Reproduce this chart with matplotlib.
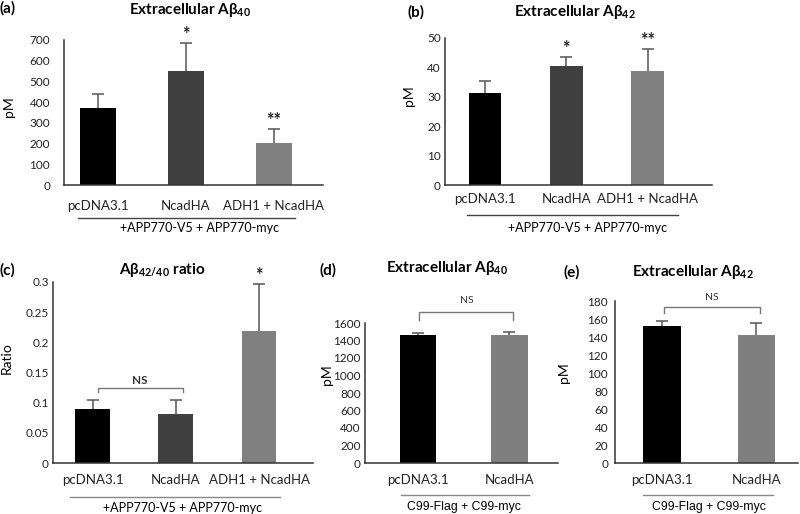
import matplotlib
matplotlib.use('Agg')
import matplotlib.pyplot as plt
import numpy as np
from matplotlib.lines import Line2D

plt.rcParams['font.family'] = ['Lato', 'DejaVu Sans']
plt.rcParams['mathtext.fontset'] = 'custom'
plt.rcParams['mathtext.rm'] = 'Lato'
plt.rcParams['mathtext.bf'] = 'Lato:bold'

W, H = 800, 514

# data
app_groups = ['pcDNA3.1', 'NcadHA', 'ADH1 + NcadHA']
app_colors = ['#000000', '#404040', '#808080']
ab40_mean = [372, 550, 203]
ab40_err = [68, 136, 67]
ab42_mean = [31.3, 40.5, 38.8]
ab42_err = [4.1, 3.0, 7.5]
ratio_mean = [0.090, 0.082, 0.218]
ratio_err = [0.014, 0.022, 0.079]

c99_groups = ['pcDNA3.1', 'NcadHA']
c99_colors = ['#000000', '#7f7f7f']
c99_ab40_mean = [1463, 1463]
c99_ab40_err = [19, 31]
c99_ab42_mean = [152.2, 141.9]
c99_ab42_err = [5.6, 14.1]

fig = plt.figure(figsize=(8, 5.14), dpi=100)


def fx(x):
    return x / W


def fy(y):
    return 1 - y / H


def make_axes(x0, ytop, x1, ybot):
    return fig.add_axes([fx(x0), fy(ybot), fx(x1) - fx(x0), fy(ytop) - fy(ybot)])


def bar_panel(ax, groups, means, errs, colors, ymax, step, xlim, width, ypad, xpad, fmt=None):
    x = np.arange(len(groups))
    ax.bar(x, means, width=width, color=colors, zorder=2)
    tops = np.array(means) + np.array(errs)
    ax.vlines(x, means, tops, color='#555555', lw=1.1, zorder=3)
    ax.plot(x, tops, ls='none', marker='_', ms=8, mew=1.1, color='#555555', zorder=3)
    ax.set_xlim(*xlim)
    ax.set_ylim(0, ymax)
    ticks = np.arange(0, ymax + step / 2, step)
    ax.set_yticks(ticks)
    if fmt:
        ax.set_yticklabels([fmt(t) for t in ticks])
    ax.set_xticks(x)
    ax.set_xticklabels(groups, fontsize=9.5, color='#222222')
    for s in ['top', 'right']:
        ax.spines[s].set_visible(False)
    for s in ['left', 'bottom']:
        ax.spines[s].set_color('#333333')
        ax.spines[s].set_linewidth(1.1)
    ax.tick_params(axis='y', length=0, pad=ypad, labelsize=8.5, colors='#222222')
    ax.tick_params(axis='x', length=0, pad=xpad)
    return x, tops


def star(ax, x, y, text):
    ax.annotate(text, (x, y), xytext=(0, 6), textcoords='offset points',
                ha='center', va='center', fontsize=13, fontweight='bold', color='#222222')


def bracket(ax, xa, xb, y, drop):
    ax.plot([xa, xa, xb, xb], [y - drop, y, y, y - drop], color='#777777', lw=1,
            clip_on=False)


def underline(x0, x1, y, color):
    fig.add_artist(Line2D([fx(x0), fx(x1)], [fy(y), fy(y)], color=color, lw=1,
                          transform=fig.transFigure))


def ftext(x, y, s, **kw):
    fig.text(fx(x), fy(y), s, **kw)


# (a)
ax = make_axes(64, 40, 323, 185)
x, tops = bar_panel(ax, app_groups, ab40_mean, ab40_err, app_colors, 700, 100,
                    (-0.386, 2.557), 0.4, 10, 11)
star(ax, x[1], tops[1], '*')
star(ax, x[2], tops[2], '**')
ax.set_ylabel('pM', fontsize=10)
ax.yaxis.set_label_coords((15 - 64) / 259, 0.54)
underline(78, 295, 218, '#444444')
ftext(200, 228, '+APP770-V5 + APP770-myc', ha='center', va='center', fontsize=9)
ftext(190, 10, 'Extracellular Aβ$_\\mathbf{40}$', ha='center', va='center',
      fontsize=11, fontweight='bold')
ftext(0, 8, '(a)', ha='left', va='center', fontsize=11, fontweight='bold')

# (b)
ax = make_axes(445, 38, 712, 185)
x, tops = bar_panel(ax, app_groups, ab42_mean, ab42_err, app_colors, 50, 10,
                    (-0.49, 2.79), 0.4, 3, 6)
star(ax, x[1], tops[1], '*')
star(ax, x[2], tops[2], '**')
ax.set_ylabel('pM', fontsize=10)
ax.yaxis.set_label_coords((415 - 445) / 267, 0.61)
underline(467, 678, 215, '#444444')
ftext(588, 228, '+APP770-V5 + APP770-myc', ha='center', va='center', fontsize=9)
ftext(575, 12, 'Extracellular Aβ$_\\mathbf{42}$', ha='center', va='center',
      fontsize=11, fontweight='bold')
ftext(407, 12, '(b)', ha='left', va='center', fontsize=11, fontweight='bold')

# (c)
ax = make_axes(53, 282, 313, 463)
x, tops = bar_panel(ax, app_groups, ratio_mean, ratio_err, app_colors, 0.3, 0.05,
                    (-0.48, 2.65), 0.42, 3, 8,
                    fmt=lambda t: '0' if t == 0 else ('%.2f' % t).rstrip('0'))
star(ax, x[2], tops[2], '*')
bracket(ax, x[0] + 0.06, x[1] + 0.08, 0.124, 0.007)
ax.text((x[0] + x[1]) / 2 + 0.07, 0.137, 'NS', ha='center', va='center',
        fontsize=8.5, fontweight='bold', color='#333333')
ax.set_ylabel('Ratio', fontsize=10)
ax.yaxis.set_label_coords((13 - 53) / 260, 0.58)
underline(70, 280, 497, '#888888')
ftext(183, 508, '+APP770-V5 + APP770-myc', ha='center', va='center', fontsize=9)
ftext(162, 270, 'Aβ$_\\mathbf{42/40}$ ratio', ha='center', va='center',
      fontsize=11, fontweight='bold')
ftext(0, 270, '(c)', ha='left', va='center', fontsize=11, fontweight='bold')

# (d)
ax = make_axes(365, 323, 558, 463)
x, tops = bar_panel(ax, c99_groups, c99_ab40_mean, c99_ab40_err, c99_colors, 1600, 200,
                    (-0.585, 1.535), 0.4, 3, 8)
bracket(ax, x[0] + 0.01, x[1] + 0.04, 1726, 90)
ax.text((x[0] + x[1]) / 2 + 0.03, 1860, 'NS', ha='center', va='center',
        fontsize=7.5, color='#333333', clip_on=False)
ax.set_ylabel('pM', fontsize=10)
ax.yaxis.set_label_coords((333 - 365) / 193, 0.63)
underline(401, 529, 495, '#888888')
ftext(464, 507, 'C99-Flag + C99-myc', ha='center', va='center', fontsize=8.8,
      family=['Liberation Sans'])
ftext(447, 268, 'Extracellular Aβ$_\\mathbf{40}$', ha='center', va='center',
      fontsize=11, fontweight='bold')
ftext(319, 270, '(d)', ha='left', va='center', fontsize=11, fontweight='bold')

# (e)
ax = make_axes(615, 301, 798, 463)
x, tops = bar_panel(ax, c99_groups, c99_ab42_mean, c99_ab42_err, c99_colors, 180, 20,
                    (-0.497, 1.44), 0.4, 5, 8)
bracket(ax, x[0] + 0.02, x[1] + 0.04, 173, 6)
ax.text((x[0] + x[1]) / 2 + 0.03, 184, 'NS', ha='center', va='center',
        fontsize=7.5, color='#333333', clip_on=False)
ax.set_ylabel('pM', fontsize=10)
ax.yaxis.set_label_coords((570 - 615) / 183, 0.56)
underline(643, 773, 495, '#888888')
ftext(709, 507, 'C99-Flag + C99-myc', ha='center', va='center', fontsize=8.8,
      family=['Liberation Sans'])
ftext(693, 272, 'Extracellular Aβ$_\\mathbf{42}$', ha='center', va='center',
      fontsize=11, fontweight='bold')
ftext(563, 272, '(e)', ha='left', va='center', fontsize=11, fontweight='bold')

fig.savefig('out.png', dpi=100)
